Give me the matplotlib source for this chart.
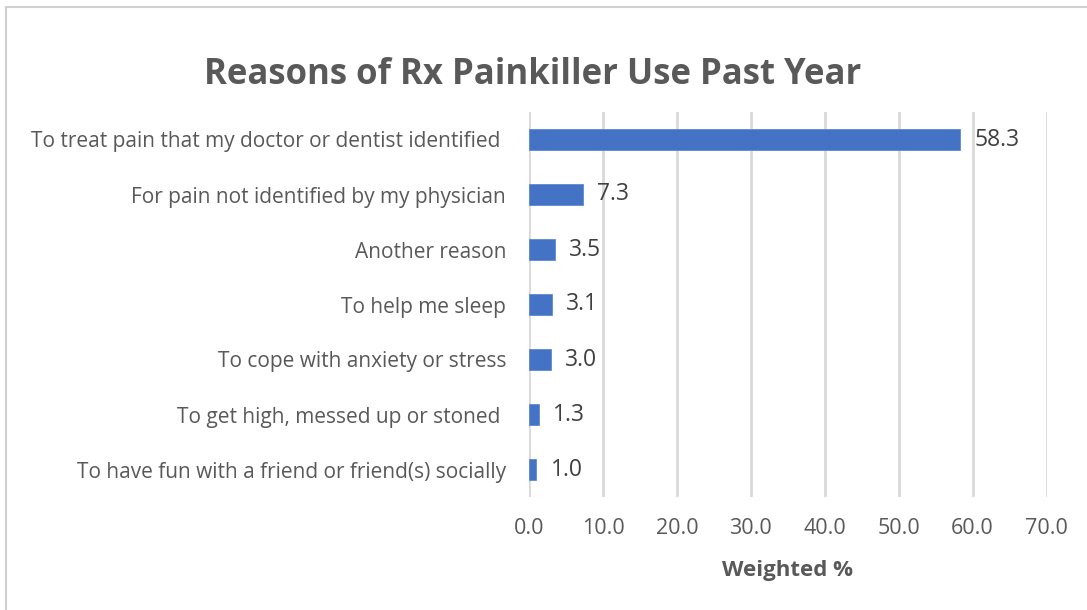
import matplotlib
matplotlib.use("Agg")
import matplotlib.pyplot as plt
from matplotlib.patches import Rectangle

reasons = [
    "To treat pain that my doctor or dentist identified ",
    "For pain not identified by my physician",
    "Another reason",
    "To help me sleep",
    "To cope with anxiety or stress",
    "To get high, messed up or stoned ",
    "To have fun with a friend or friend(s) socially",
]
weighted_pct = [58.3, 7.3, 3.5, 3.1, 3.0, 1.3, 1.0]
x_ticks = [0, 10, 20, 30, 40, 50, 60, 70]

text_color = "#595959"
bar_color = "#4472C4"
grid_color = "#d9d9d9"
font = "Open Sans"

W, H = 1087, 610
fig = plt.figure(figsize=(W / 100, H / 100), dpi=100)
fig.patch.set_facecolor("white")

# chart-area frame
fig.patches.append(Rectangle((6 / W, -0.05), 1.2, 1 - 7 / H + 0.05,
                             transform=fig.transFigure, fill=False,
                             edgecolor="#d0d0d0", linewidth=1.5))

ax = fig.add_axes([529 / W, 1 - 497 / H, (1046.5 - 529) / W, (497 - 112) / H])
y = list(range(len(reasons)))
ax.barh(y, weighted_pct, height=0.37, color=bar_color, edgecolor="#5b8ad6",
        linewidth=0.6, zorder=3)
ax.set_ylim(len(reasons) - 0.5, -0.5)
ax.set_xlim(0, 70)
ax.set_xticks(x_ticks)
ax.set_xticklabels([f"{t:.1f}" for t in x_ticks], fontsize=15.5, color=text_color,
                   family=font)
ax.set_yticks(y)
ax.set_yticklabels(reasons, fontsize=15, color=text_color, family=font)
ax.tick_params(axis="both", length=0)
ax.tick_params(axis="y", pad=16.5)
ax.tick_params(axis="x", pad=15)
ax.grid(axis="x", color=grid_color, linewidth=2, zorder=0)
for s in ax.spines.values():
    s.set_visible(False)
ax.set_facecolor("none")

for yi, v in zip(y, weighted_pct):
    ax.text(v + 1.9, yi, f"{v:.1f}", va="center", ha="left", fontsize=16.5,
            color="#404040", family=font)

ax.set_xlabel("Weighted %", fontsize=16, fontweight="bold", color=text_color,
              family=font, labelpad=15)

fig.text(533 / W, 1 - 75 / H, "Reasons of Rx Painkiller Use Past Year",
         ha="center", va="center", fontsize=25, fontweight="bold",
         color=text_color, family=font)

fig.savefig("out.png", dpi=100, facecolor="white")
